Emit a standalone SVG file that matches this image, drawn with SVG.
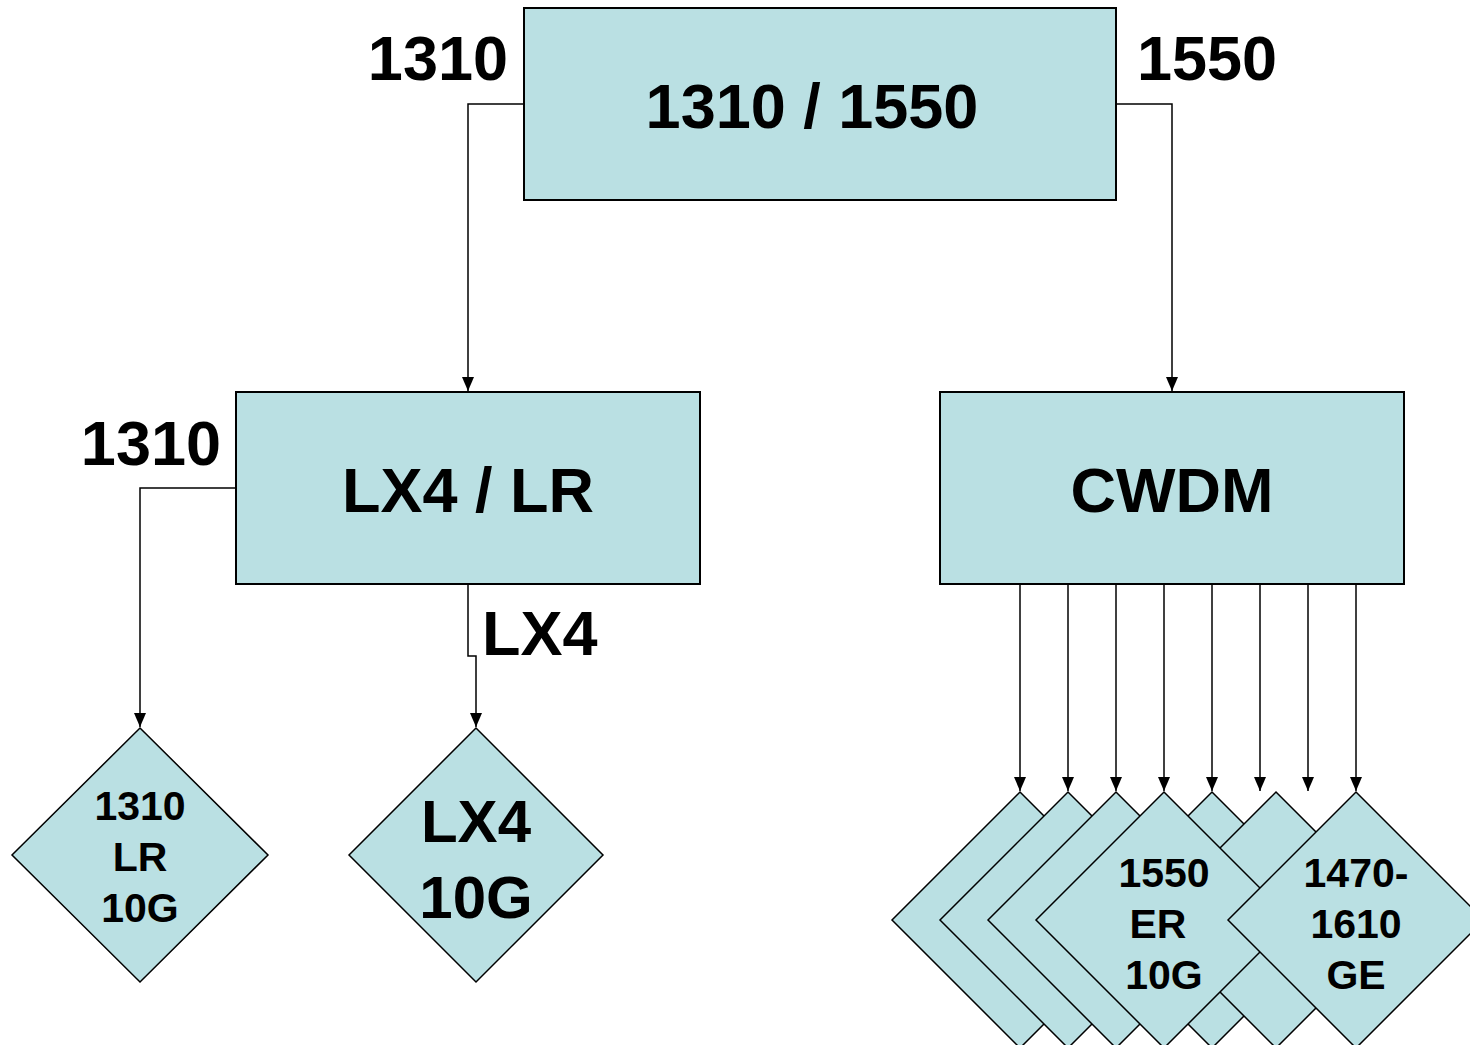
<svg xmlns="http://www.w3.org/2000/svg" width="1470" height="1045" viewBox="0 0 1470 1045">
<style>
.box{fill:#bae0e3;stroke:#000;stroke-width:2}
.dia{fill:#bae0e3;stroke:#000;stroke-width:1.5}
.t{font-family:"Liberation Sans",Arial,sans-serif;font-weight:bold;fill:#000;text-anchor:middle}
.big{font-size:63px}
.mid{font-size:60px}
.sm{font-size:41px}
.lbl{font-family:"Liberation Sans",Arial,sans-serif;font-weight:bold;fill:#000;font-size:63px}
.c{fill:none;stroke:#000;stroke-width:1.5}
</style>
<defs>
<marker id="ah" markerUnits="userSpaceOnUse" markerWidth="12" markerHeight="14" refX="6" refY="14" orient="auto-start-reverse" viewBox="0 0 12 14">
<path d="M0,0 L12,0 L6,14 Z" fill="#000" transform="rotate(0)"/>
</marker>
<marker id="ad" markerUnits="userSpaceOnUse" markerWidth="14" markerHeight="12" refX="14" refY="6" orient="auto" viewBox="0 0 14 12">
<path d="M0,0 L14,6 L0,12 Z" fill="#000"/>
</marker>
</defs>
<rect width="1470" height="1045" fill="#fff"/>
<g id="connectors">
<polyline class="c" points="524,104 468,104 468,391" marker-end="url(#ad)"/>
<polyline class="c" points="1116,104 1172,104 1172,391" marker-end="url(#ad)"/>
<polyline class="c" points="236,488 140,488 140,727" marker-end="url(#ad)"/>
<polyline class="c" points="468,584 468,656 476,656 476,727" marker-end="url(#ad)"/>
<line class="c" x1="1020" y1="584" x2="1020" y2="791" marker-end="url(#ad)"/>
<line class="c" x1="1068" y1="584" x2="1068" y2="791" marker-end="url(#ad)"/>
<line class="c" x1="1116" y1="584" x2="1116" y2="791" marker-end="url(#ad)"/>
<line class="c" x1="1164" y1="584" x2="1164" y2="791" marker-end="url(#ad)"/>
<line class="c" x1="1212" y1="584" x2="1212" y2="791" marker-end="url(#ad)"/>
<line class="c" x1="1260" y1="584" x2="1260" y2="791" marker-end="url(#ad)"/>
<line class="c" x1="1308" y1="584" x2="1308" y2="791" marker-end="url(#ad)"/>
<line class="c" x1="1356" y1="584" x2="1356" y2="791" marker-end="url(#ad)"/>
</g>
<g id="labels">
<text class="lbl" x="508" y="80" text-anchor="end">1310</text>
<text class="lbl" x="1137" y="80">1550</text>
<text class="lbl" x="221" y="465" text-anchor="end">1310</text>
<text class="lbl" x="482" y="655">LX4</text>
</g>
<g id="node-top">
<rect class="box" x="524" y="8" width="592" height="192"/>
<text class="t big" x="812" y="128">1310 / 1550</text>
</g>
<g id="node-lx4lr">
<rect class="box" x="236" y="392" width="464" height="192"/>
<text class="t big" x="468" y="512">LX4 / LR</text>
</g>
<g id="node-cwdm">
<rect class="box" x="940" y="392" width="464" height="192"/>
<text class="t big" x="1172" y="512">CWDM</text>
</g>
<g id="node-1310lr">
<polygon class="dia" points="140,728 268,855 140,982 12,855"/>
<text class="t sm" x="140" y="820">1310</text>
<text class="t sm" x="140" y="871">LR</text>
<text class="t sm" x="140" y="922">10G</text>
</g>
<g id="node-lx4-10g">
<polygon class="dia" points="476,728 603,855 476,982 349,855"/>
<text class="t mid" x="476" y="842">LX4</text>
<text class="t mid" x="476" y="918">10G</text>
</g>
<g id="node-cwdm-1">
<polygon class="dia" points="1020,792 1148,920 1020,1048 892,920"/>
</g>
<g id="node-cwdm-2">
<polygon class="dia" points="1068,792 1196,920 1068,1048 940,920"/>
</g>
<g id="node-cwdm-3">
<polygon class="dia" points="1116,792 1244,920 1116,1048 988,920"/>
</g>
<g id="node-cwdm-5">
<polygon class="dia" points="1212,792 1340,920 1212,1048 1084,920"/>
</g>
<g id="node-cwdm-6">
<polygon class="dia" points="1276,792 1404,920 1276,1048 1148,920"/>
</g>
<g id="node-1550er">
<polygon class="dia" points="1164,792 1292,920 1164,1048 1036,920"/>
<text class="t sm" x="1164" y="887">1550</text>
<text class="t sm" x="1158" y="938">ER</text>
<text class="t sm" x="1164" y="989">10G</text>
</g>
<g id="node-1470-1610">
<polygon class="dia" points="1356,792 1484,920 1356,1048 1228,920"/>
<text class="t sm" x="1356" y="887">1470-</text>
<text class="t sm" x="1356" y="938">1610</text>
<text class="t sm" x="1356" y="989">GE</text>
</g>
</svg>
